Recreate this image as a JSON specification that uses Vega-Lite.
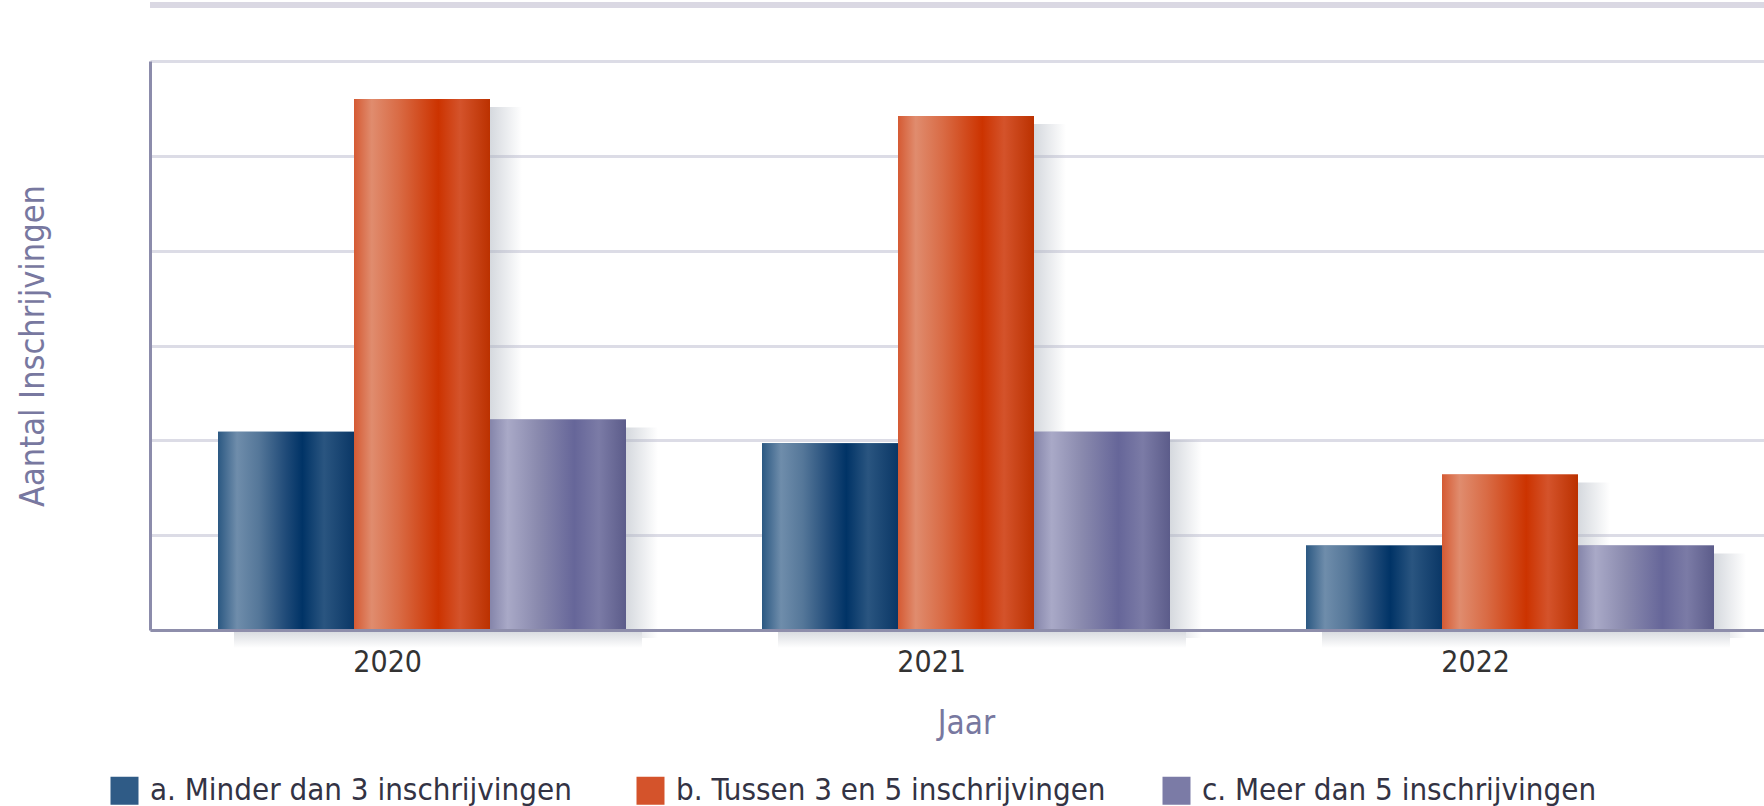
{
  "$schema": "https://vega.github.io/schema/vega-lite/v6.json",
  "width": 1614,
  "height": 569,
  "autosize": {"type": "none"},
  "padding": {"left": 150, "top": 61, "right": 0, "bottom": 176},
  "background": "white",
  "config": {"view": {"stroke": null}, "font": "DejaVu Sans Condensed", "axisY": {"grid": true, "gridColor": "#dcdce6", "gridWidth": 3}},
  "data": {
    "values": [
      {"Jaar": "2020", "Categorie": "a. Minder dan 3 inschrijvingen", "Aantal": 209},
      {"Jaar": "2020", "Categorie": "b. Tussen 3 en 5 inschrijvingen", "Aantal": 560},
      {"Jaar": "2020", "Categorie": "c. Meer dan 5 inschrijvingen", "Aantal": 222},
      {"Jaar": "2021", "Categorie": "a. Minder dan 3 inschrijvingen", "Aantal": 197},
      {"Jaar": "2021", "Categorie": "b. Tussen 3 en 5 inschrijvingen", "Aantal": 542},
      {"Jaar": "2021", "Categorie": "c. Meer dan 5 inschrijvingen", "Aantal": 209},
      {"Jaar": "2022", "Categorie": "a. Minder dan 3 inschrijvingen", "Aantal": 89},
      {"Jaar": "2022", "Categorie": "b. Tussen 3 en 5 inschrijvingen", "Aantal": 164},
      {"Jaar": "2022", "Categorie": "c. Meer dan 5 inschrijvingen", "Aantal": 89}
    ]
  },
  "resolve": {"scale": {"xOffset": "independent"}},
  "layer": [
    {
      "mark": {"type": "rule", "stroke": "#dad8e3", "strokeWidth": 6},
      "encoding": {
        "y": {"datum": 659, "type": "quantitative", "scale": {"domain": [0, 600], "nice": false, "zero": true}}
      }
    },
    {
      "mark": {
        "type": "bar",
        "yOffset": 8,
        "fill": {
          "gradient": "linear", "x1": 0, "y1": 0, "x2": 1, "y2": 0,
          "stops": [
            {"offset": 0, "color": "rgba(170,177,188,0.5)"},
            {"offset": 0.76, "color": "rgba(170,177,188,0.5)"},
            {"offset": 1, "color": "rgba(170,177,188,0)"}
          ]
        }
      },
      "encoding": {
        "x": {"field": "Jaar", "type": "nominal", "scale": {"range": [0, 1632], "paddingInner": 0.25, "paddingOuter": 0.125}},
        "xOffset": {"field": "Categorie", "type": "nominal", "scale": {"domain": ["a. Minder dan 3 inschrijvingen", "b. Tussen 3 en 5 inschrijvingen", "c. Meer dan 5 inschrijvingen"], "range": [32, 440], "paddingInner": 0, "paddingOuter": 0}},
        "y": {"field": "Aantal", "type": "quantitative", "scale": {"domain": [0, 600], "nice": false, "zero": true}}
      }
    },
    {
      "mark": {
        "type": "bar",
        "y2Offset": 18,
        "fill": {
          "gradient": "linear", "x1": 0, "y1": 0, "x2": 0, "y2": 1,
          "stops": [
            {"offset": 0, "color": "#d5d8dd"},
            {"offset": 1, "color": "#ffffff"}
          ]
        }
      },
      "encoding": {
        "x": {"field": "Jaar", "type": "nominal", "scale": {"range": [0, 1632], "paddingInner": 0.25, "paddingOuter": 0.125}},
        "xOffset": {"field": "Categorie", "type": "nominal", "scale": {"domain": ["a. Minder dan 3 inschrijvingen", "b. Tussen 3 en 5 inschrijvingen", "c. Meer dan 5 inschrijvingen"], "range": [16, 424], "paddingInner": 0, "paddingOuter": 0}},
        "y": {"datum": 0, "type": "quantitative", "scale": {"domain": [0, 600], "nice": false, "zero": true}},
        "y2": {"datum": 0}
      }
    },
    {
      "encoding": {
        "x": {"field": "Jaar", "type": "nominal", "scale": {"range": [0, 1632], "paddingInner": 0.25, "paddingOuter": 0.125}},
        "xOffset": {"field": "Categorie", "type": "nominal", "scale": {"domain": ["a. Minder dan 3 inschrijvingen", "b. Tussen 3 en 5 inschrijvingen", "c. Meer dan 5 inschrijvingen"], "paddingInner": 0, "paddingOuter": 0}}
      },
      "layer": [
        {
          "mark": {"type": "bar"},
          "encoding": {
            "x": {
              "field": "Jaar", "type": "nominal",
              "scale": {"range": [0, 1632], "paddingInner": 0.25, "paddingOuter": 0.125},
              "axis": {
                "title": "Jaar", "labelAngle": 0, "ticks": false, "grid": false,
                "domainColor": "#8e8eab", "domainWidth": 3,
                "labelFontSize": 30, "labelColor": "#333333", "labelPadding": 32,
                "titleFontSize": 33, "titleColor": "#7878a0", "titleFontWeight": "normal", "titlePadding": 30,
                "zindex": 1
              }
            },
            "y": {
              "field": "Aantal", "type": "quantitative",
              "scale": {"domain": [0, 600], "nice": false, "zero": true},
              "axis": {
                "title": "Aantal Inschrijvingen", "labels": false, "ticks": false, "grid": true,
                "values": [0, 100, 200, 300, 400, 500, 600],
                "gridColor": "#dcdce6", "gridWidth": 3,
                "domainColor": "#8c8cab", "domainWidth": 3,
                "titleFontSize": 34, "titleColor": "#7878a0", "titleFontWeight": "normal", "titlePadding": 100
              }
            },
            "color": {
              "field": "Categorie", "type": "nominal",
              "scale": {
                "domain": ["a. Minder dan 3 inschrijvingen", "b. Tussen 3 en 5 inschrijvingen", "c. Meer dan 5 inschrijvingen"],
                "range": ["#2f5b86", "#d4532b", "#7b7ba6"]
              },
              "legend": {
                "title": null, "orient": "none", "legendX": -41, "legendY": 714,
                "direction": "horizontal", "symbolType": "square", "symbolSize": 784,
                "symbolStrokeWidth": 0, "labelFontSize": 31, "labelColor": "#333344",
                "labelOffset": 10, "columnPadding": 55, "gridAlign": "all",
                "labelLimit": 700, "padding": 0
              }
            }
          }
        },
        {
          "transform": [{"filter": "datum.Categorie === 'a. Minder dan 3 inschrijvingen'"}],
          "mark": {
            "type": "bar",
            "fill": {"gradient": "linear", "x1": 0, "y1": 0, "x2": 1, "y2": 0, "stops": [
              {"offset": 0, "color": "#2b5882"}, {"offset": 0.14, "color": "#6f8dab"}, {"offset": 0.3, "color": "#557799"},
              {"offset": 0.5, "color": "#1f4a78"}, {"offset": 0.62, "color": "#003366"}, {"offset": 0.78, "color": "#2a5580"}, {"offset": 1, "color": "#0a3766"}]}
          },
          "encoding": {
            "y": {"field": "Aantal", "type": "quantitative", "scale": {"domain": [0, 600], "nice": false, "zero": true}}
          }
        },
        {
          "transform": [{"filter": "datum.Categorie === 'b. Tussen 3 en 5 inschrijvingen'"}],
          "mark": {
            "type": "bar",
            "fill": {"gradient": "linear", "x1": 0, "y1": 0, "x2": 1, "y2": 0, "stops": [
              {"offset": 0, "color": "#d55a33"}, {"offset": 0.13, "color": "#e08c6e"}, {"offset": 0.33, "color": "#d96b45"},
              {"offset": 0.62, "color": "#cc3300"}, {"offset": 0.78, "color": "#d4532b"}, {"offset": 1, "color": "#bb3100"}]}
          },
          "encoding": {
            "y": {"field": "Aantal", "type": "quantitative", "scale": {"domain": [0, 600], "nice": false, "zero": true}}
          }
        },
        {
          "transform": [{"filter": "datum.Categorie === 'c. Meer dan 5 inschrijvingen'"}],
          "mark": {
            "type": "bar",
            "fill": {"gradient": "linear", "x1": 0, "y1": 0, "x2": 1, "y2": 0, "stops": [
              {"offset": 0, "color": "#8585aa"}, {"offset": 0.13, "color": "#a9a9c7"}, {"offset": 0.35, "color": "#8a8aae"},
              {"offset": 0.62, "color": "#666699"}, {"offset": 0.8, "color": "#7b7ba6"}, {"offset": 1, "color": "#5c5c8a"}]}
          },
          "encoding": {
            "y": {"field": "Aantal", "type": "quantitative", "scale": {"domain": [0, 600], "nice": false, "zero": true}}
          }
        }
      ]
    }
  ]
}
